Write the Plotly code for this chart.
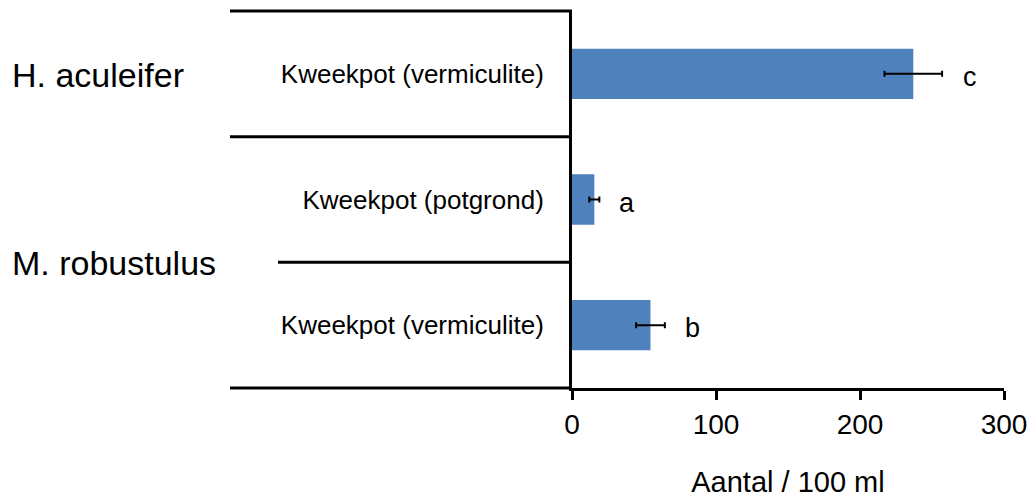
import plotly.graph_objects as go

# ---- data (bottom to top) ----
species = ["M. robustulus", "M. robustulus", "H. aculeifer"]
substrates = ["Kweekpot (vermiculite)", "Kweekpot (potgrond)", "Kweekpot (vermiculite)"]
means = [54.5, 15.5, 237]
errors = [10, 3.5, 20]
letters = ["b", "a", "c"]
x_ticks = [0, 100, 200, 300]
x_title = "Aantal / 100 ml"

FONT = "Liberation Sans, Arial, sans-serif"
BLUE = "#4F81BD"
LW = 3

positions = list(range(len(means)))
n = len(positions)

fig = go.Figure()
fig.add_trace(go.Bar(
    x=means, y=positions, orientation="h",
    marker=dict(color=BLUE, line=dict(width=0)),
    width=0.4,
    error_x=dict(type="data", array=errors, visible=True,
                 color="black", thickness=2, width=3),
    showlegend=False,
))

W, H = 1030, 501
# target plot area in window pixels: x 572..1004, y 11..388
L, R, T, B = 572, W - 1004, 11, H - 388
plot_w = W - L - R


def px_to_paper(px):
    return (px - L) / plot_w


def y_to_paper(y):
    return (y + 0.5) / n


# significance letters
for i, (m, e, t) in enumerate(zip(means, errors, letters)):
    fig.add_annotation(x=m + e, y=positions[i], xref="x", yref="y", text=t,
                       showarrow=False, xanchor="center", yanchor="middle",
                       xshift=28, yshift=-3,
                       font=dict(family=FONT, size=27, color="black"))

# species group labels
groups = []
for i, s in enumerate(species):
    if not groups or groups[-1][0] != s:
        groups.append([s, [i]])
    else:
        groups[-1][1].append(i)
for s, idx in groups:
    yc = sum(positions[j] for j in idx) / len(idx)
    fig.add_annotation(x=px_to_paper(10), y=yc, xref="paper", yref="y", text=s,
                       showarrow=False, xanchor="left", yanchor="middle",
                       yshift=-1,
                       font=dict(family=FONT, size=34, color="black"))

# horizontal divider lines (paper coordinates so edge lines are not clipped)
line_style = dict(color="black", width=LW)
fig.add_shape(type="line", xref="paper", yref="paper", x0=px_to_paper(230), x1=0,
              y0=y_to_paper(n - 0.5), y1=y_to_paper(n - 0.5), line=line_style)
for k in range(n - 1):
    yb = y_to_paper(positions[k] + 0.5)
    same_group = species[k] == species[k + 1]
    x0 = px_to_paper(278) if same_group else px_to_paper(230)
    fig.add_shape(type="line", xref="paper", yref="paper", x0=x0, x1=0,
                  y0=yb, y1=yb, line=line_style)
fig.add_shape(type="line", xref="paper", yref="paper", x0=px_to_paper(230), x1=0,
              y0=y_to_paper(-0.5), y1=y_to_paper(-0.5), line=line_style)

fig.update_layout(
    width=W, height=H,
    margin=dict(l=L, r=R, t=T, b=B, autoexpand=False),
    plot_bgcolor="white", paper_bgcolor="white",
    font=dict(family=FONT, color="black"),
    xaxis=dict(range=[0, 300], tickvals=x_ticks, ticks="outside", ticklen=9,
               tickwidth=LW, tickcolor="black", showline=True, linecolor="black",
               linewidth=LW, showgrid=False, zeroline=False, automargin=False,
               tickfont=dict(family=FONT, size=28, color="black"),
               title=dict(text=x_title, font=dict(family=FONT, size=29, color="black"),
                          standoff=34)),
    yaxis=dict(range=[-0.5, n - 0.5], tickvals=positions, ticktext=substrates,
               ticks="", showline=True, linecolor="black", linewidth=LW,
               showgrid=False, zeroline=False, ticklabelstandoff=20, automargin=False,
               tickfont=dict(family=FONT, size=26, color="black")),
)

fig.write_html(
    "out.html",
    config={"displayModeBar": False},
    post_script="document.body.style.margin='0';"
                "document.documentElement.style.overflow='hidden';",
)
